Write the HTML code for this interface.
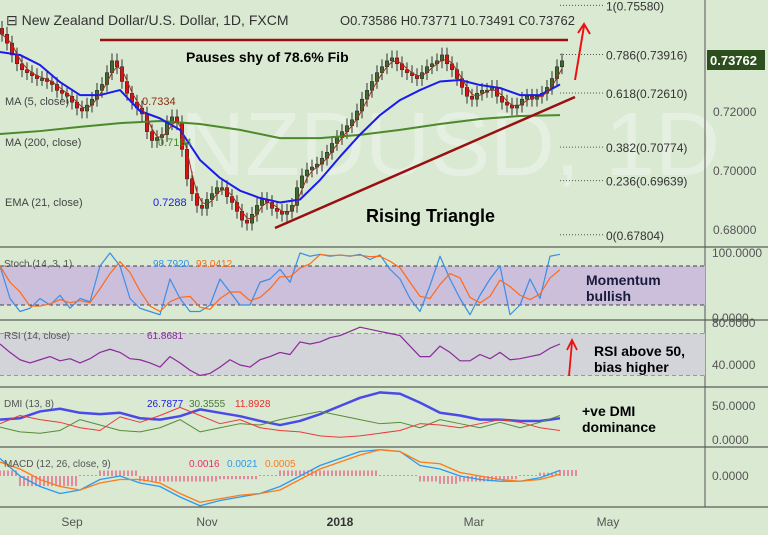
<!DOCTYPE html>
<html><head><meta charset="utf-8"><style>
html,body{margin:0;padding:0;background:#d9e9d2;}
svg{display:block;font-family:"Liberation Sans",sans-serif;}
</style></head><body>
<svg id="c" width="768" height="535" viewBox="0 0 768 535">
<rect x="0" y="0" width="768" height="535" fill="#d9e9d2"/>
<text x="180" y="175" font-size="90" fill="#e6f0e2">NZDUSD, 1D</text>
</svg>
<script>
// ---------- data ----------
const closes=[0.746,0.743,0.739,0.736,0.734,0.733,0.732,0.731,0.731,0.730,0.729,0.727,0.726,0.725,0.723,0.721,0.720,0.722,0.724,0.727,0.729,0.733,0.737,0.735,0.730,0.726,0.723,0.721,0.719,0.713,0.710,0.711,0.712,0.716,0.718,0.716,0.707,0.697,0.692,0.688,0.687,0.690,0.692,0.694,0.694,0.691,0.689,0.686,0.683,0.682,0.685,0.688,0.690,0.689,0.687,0.686,0.685,0.686,0.688,0.694,0.698,0.700,0.701,0.702,0.704,0.706,0.709,0.711,0.713,0.715,0.717,0.720,0.724,0.727,0.730,0.733,0.735,0.737,0.738,0.736,0.734,0.733,0.732,0.731,0.733,0.735,0.736,0.737,0.739,0.736,0.734,0.731,0.728,0.725,0.724,0.726,0.727,0.727,0.728,0.725,0.723,0.722,0.721,0.722,0.724,0.725,0.724,0.725,0.726,0.728,0.731,0.735,0.737];
const ema21=[0.7400,0.7390,0.7356,0.7298,0.7254,0.7254,0.7271,0.7200,0.7175,0.7136,0.7034,0.6973,0.6930,0.6905,0.6890,0.6900,0.6966,0.7045,0.7120,0.7186,0.7237,0.7271,0.7300,0.7305,0.7288,0.7278,0.7254,0.7254,0.7290];
const ma200=[0.7122,0.7132,0.7146,0.7159,0.7166,0.7156,0.7136,0.7108,0.7108,0.7119,0.7136,0.7156,0.7173,0.7183,0.7186];
const priceTicks=[0.72,0.70,0.68];
const fibLevels=[[1,0.75580],[0.786,0.73916],[0.618,0.72610],[0.382,0.70774],[0.236,0.69639],[0,0.67804]];
const stochK=[80,30,10,15,30,20,35,15,30,25,80,100,80,30,15,10,5,60,30,10,10,20,60,40,20,20,55,60,75,55,100,95,98,95,97,95,98,90,97,75,60,30,10,50,95,60,30,5,35,60,80,5,20,60,30,95,98];
const rsi=[60,52,45,42,45,48,44,46,42,46,52,55,52,46,45,42,38,48,42,35,30,32,38,45,40,38,45,48,52,50,62,60,62,66,68,72,76,74,72,70,68,58,48,48,58,52,44,44,50,46,52,45,46,48,50,56,60];
const adx=[30,32,42,46,40,38,40,32,30,35,45,40,35,28,22,28,38,50,62,70,68,55,40,36,30,30,28,28,32];
const plusDI=[19,12,10,14,30,22,14,12,18,30,12,18,24,22,30,36,42,36,30,24,26,18,30,24,18,26,18,26,36];
const minusDI=[24,36,30,26,18,14,34,26,36,48,36,24,30,18,14,12,6,4,6,10,14,24,22,18,24,30,26,18,14];
const macdLine=[0.005,0.000,-0.003,-0.005,-0.004,-0.001,0.000,-0.002,-0.003,-0.006,-0.0085,-0.007,-0.006,-0.005,-0.003,0.000,0.003,0.005,0.007,0.0075,0.007,0.003,0.002,0.000,-0.001,-0.0015,-0.0015,-0.0005,0.0016];
const signalLine=[0.004,0.002,-0.001,-0.003,-0.004,-0.002,-0.001,-0.001,-0.002,-0.005,-0.0075,-0.0065,-0.0055,-0.005,-0.004,-0.001,0.002,0.004,0.006,0.0075,0.007,0.004,0.0035,0.001,0,-0.001,-0.0015,-0.001,0.0005];
const dateLabels=[["Sep",72],["Nov",207],["2018",340],["Mar",474],["May",608]];

// ---------- axes ----------
const svg=document.getElementById('c');
const NS='http://www.w3.org/2000/svg';
function el(t,a,txt){const e=document.createElementNS(NS,t);for(const k in a)e.setAttribute(k,a[k]);if(txt!==undefined)e.textContent=txt;svg.appendChild(e);return e;}
const py=p=>111-(p-0.72)*2950;
const cx=i=>2+i*5;
const sx=i=>i*10, dx=i=>i*20, mx=i=>i*40;
const stY=v=>318-v*0.65;
const rsiY=v=>365-(v-40)*1.05;
const dmiY=v=>440-v*0.68;
const macdY=v=>476-v*3500;

[247,320,387,447,507].forEach((y,k)=>{const l=el('line',{x1:0,y1:y,x2:768,y2:y,stroke:'#3a3a3a','stroke-width':1});
});
const ax=el('line',{x1:705,y1:0,x2:705,y2:507,stroke:'#555','stroke-width':1});


let b=el('rect',{x:0,y:stY(80),width:705,height:stY(20)-stY(80),fill:'#cbbfdc'});

[80,20].forEach(v=>{const l=el('line',{x1:0,x2:705,y1:stY(v),y2:stY(v),stroke:'#444','stroke-dasharray':'4,3'});});
b=el('rect',{x:0,y:rsiY(70),width:705,height:rsiY(30)-rsiY(70),fill:'#d3d3da'});

[70,30].forEach(v=>{const l=el('line',{x1:0,x2:705,y1:rsiY(v),y2:rsiY(v),stroke:'#999','stroke-dasharray':'4,3'});});

fibLevels.forEach(f=>{const y=py(f[1]);
const l=el('line',{x1:560,x2:604,y1:y,y2:y,stroke:'#555','stroke-dasharray':'1,2'});
const t=el('text',{x:606,y:y+5,'font-size':12,fill:'#333'},f[0]+'('+f[1].toFixed(5)+')');});

closes.forEach((c,i)=>{const o=i?closes[i-1]:c+0.002;const up=c>=o;
const hi=Math.max(o,c)+0.0025,lo=Math.min(o,c)-0.0025;const x=cx(i);
const w=el('line',{x1:x,x2:x,y1:py(hi),y2:py(lo),stroke:'#333','stroke-width':1});
const r=el('rect',{x:x-1.7,y:py(Math.max(o,c)),width:3.4,height:Math.max(2,Math.abs(py(o)-py(c))),fill:up?'#3f6b2e':'#e01010',stroke:'#222','stroke-width':0.5});
});

function poly(vals,xf,yf,col,w,name){const p=el('polyline',{points:vals.map((v,i)=>xf(i)+','+yf(v)).join(' '),fill:'none',stroke:col,'stroke-width':w,'stroke-linejoin':'round'});return p;}
const ma5=closes.map((c,i)=>{const s=closes.slice(Math.max(0,i-2),i+1);return s.reduce((a,b)=>a+b,0)/s.length;});
poly(ma200,mx,py,'#4a8a2a',2,'ma200-line');
poly(ema21,dx,py,'#1a1aee',2,'ema21-line');
poly(ma5,cx,py,'#a03020',1,'ma5-line');

const stochD=stochK.map((v,i)=>{const s=stochK.slice(Math.max(0,i-2),i+1);return s.reduce((a,b)=>a+b,0)/s.length;});
poly(stochK,sx,stY,'#3a8ee6',1.2,'stoch-k-line');
poly(stochD,sx,stY,'#ff6a1a',1.2,'stoch-d-line');
poly(rsi,sx,rsiY,'#8a2a9a',1.2,'rsi-line');
poly(adx,dx,dmiY,'#4a4ae6',2.5,'adx-line');
poly(plusDI,dx,dmiY,'#5a8a3a',1,'plus-di-line');
poly(minusDI,dx,dmiY,'#ee3a3a',1,'minus-di-line');
macdLine.forEach((m,i)=>{const h=(m-signalLine[i]);const x=dx(i);
for(let k=0;k<5;k++){const r=el('line',{x1:x+k*4,x2:x+k*4,y1:macdY(0),y2:macdY(h*1.3)+(h>=0?-1:1),stroke:'#ee2a6a','stroke-width':1});}});
poly(macdLine,dx,macdY,'#2a9af0',1.3,'macd-line');
poly(signalLine,dx,macdY,'#ff7a1a',1.3,'signal-line');

let l=el('line',{x1:100,y1:40,x2:568,y2:40,stroke:'#9a1010','stroke-width':2.5});
l=el('line',{x1:275,y1:228,x2:575,y2:97,stroke:'#9a1010','stroke-width':2.5});
l=el('path',{d:'M575,80 L584,26 M578,33 L584,24 L590,34',stroke:'#ee1010','stroke-width':2,fill:'none'});
l=el('path',{d:'M569,376 L572,342 M567,350 L572,340 L577,350',stroke:'#ee1010','stroke-width':1.8,fill:'none'});

function txt(x,y,s,size,col,name,extra){const t=el('text',Object.assign({x:x,y:y,'font-size':size,fill:col},extra||{}),s);return t;}
txt(6,25,'⊟ New Zealand Dollar/U.S. Dollar, 1D, FXCM',14,'#333','chart-title');
txt(340,25,'O0.73586  H0.73771  L0.73491  C0.73762',13,'#333','ohlc-values');
txt(186,62,'Pauses shy of 78.6% Fib',14,'#000','fib-annotation',{'font-weight':'bold'});
txt(366,222,'Rising Triangle',18,'#000','triangle-annotation',{'font-weight':'bold'});
txt(5,105,'MA (5, close)',11,'#444','ma5-legend');txt(142,105,'0.7334',11,'#8a2a10','ma5-value');
txt(5,146,'MA (200, close)',11,'#444','ma200-legend');txt(158,146,'0.7184',11,'#4a8a2a','ma200-value');
txt(5,206,'EMA (21, close)',11,'#444','ema-legend');txt(153,206,'0.7288',11,'#1a1aee','ema-value');
txt(4,267,'Stoch (14, 3, 1)',10,'#555','stoch-legend');txt(153,267,'98.7920',10,'#3a8ee6','stoch-k-value');txt(196,267,'93.0412',10,'#ff6a1a','stoch-d-value');
txt(4,339,'RSI (14, close)',10,'#555','rsi-legend');txt(147,339,'61.8681',10,'#8a2a9a','rsi-value');
txt(4,407,'DMI (13, 8)',10,'#555','dmi-legend');txt(147,407,'26.7877',10,'#1a1aee','adx-value');txt(189,407,'30.3555',10,'#4a7a3a','plus-di-value');txt(235,407,'11.8928',10,'#ee2a2a','minus-di-value');
txt(4,467,'MACD (12, 26, close, 9)',10,'#555','macd-legend');txt(189,467,'0.0016',10,'#ee2a6a','hist-value');txt(227,467,'0.0021',10,'#2a9af0','macd-value');txt(265,467,'0.0005',10,'#ff7a1a','signal-value');
txt(586,285,'Momentum',14,'#1a1a3a','stoch-annotation-1',{'font-weight':'bold'});txt(586,301,'bullish',14,'#1a1a3a','stoch-annotation-2',{'font-weight':'bold'});
txt(594,356,'RSI above 50,',14,'#000','rsi-annotation-1',{'font-weight':'bold'});txt(594,372,'bias higher',14,'#000','rsi-annotation-2',{'font-weight':'bold'});
txt(582,416,'+ve DMI',14,'#000','dmi-annotation-1',{'font-weight':'bold'});txt(582,432,'dominance',14,'#000','dmi-annotation-2',{'font-weight':'bold'});

priceTicks.forEach(p=>{txt(713,py(p)+5,p.toFixed(5),12,'#555','price-tick-label');});
const box=el('rect',{x:707,y:50,width:58,height:20,fill:'#2d4f1e'});
txt(710,65,'0.73762',13,'#fff','last-price-label',{'font-weight':'bold'});
[['100.0000',stY(100)],['0.0000',stY(0)],['80.0000',rsiY(80)],['40.0000',rsiY(40)],['50.0000',dmiY(50)],['0.0000',dmiY(0)],['0.0000',macdY(0)]].forEach(t=>txt(712,t[1]+4,t[0],12,'#555','indicator-tick-label'));
dateLabels.forEach(d=>{txt(d[1],526,d[0],12,d[0]==='2018'?'#333':'#555','date-label',{'text-anchor':'middle','font-weight':d[0]==='2018'?'bold':'normal'});});
</script>
</body></html>
